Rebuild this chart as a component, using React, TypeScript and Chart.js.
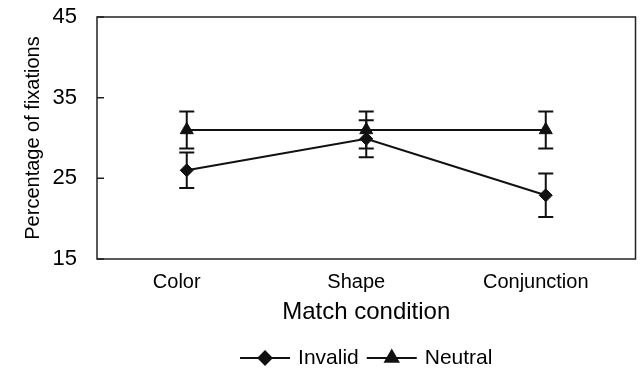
import React, { useEffect, useRef } from 'react';
import { Chart, registerables } from 'chart.js';
import { drawPoint } from 'chart.js/helpers';

Chart.register(...registerables);

const categories = ['Color', 'Shape', 'Conjunction'];
const seriesNames = ['Invalid', 'Neutral'];
const invalidValues = [26.0, 29.9, 22.9];
const invalidErrors = [2.2, 2.3, 2.7];
const neutralValues = [31.0, 31.0, 31.0];
const neutralErrors = [2.3, 2.3, 2.3];
const yMin = 15;
const yMax = 45;
const yStep = 10;

const FONT = '"Liberation Sans", Arial, sans-serif';

const errorBarPlugin = {
  id: 'errorBars',
  beforeDatasetsDraw(chart: any) {
    const { ctx } = chart;
    const ys = chart.scales.y;
    chart.data.datasets.forEach((ds: any, i: number) => {
      const meta = chart.getDatasetMeta(i);
      meta.data.forEach((pt: any, j: number) => {
        const v = ds.data[j];
        const e = ds.errors[j];
        const top = ys.getPixelForValue(v + e);
        const bot = ys.getPixelForValue(v - e);
        const cap = 7.5;
        ctx.save();
        ctx.strokeStyle = '#111';
        ctx.lineWidth = 2;
        ctx.beginPath();
        ctx.moveTo(pt.x, top);
        ctx.lineTo(pt.x, bot);
        ctx.moveTo(pt.x - cap, top);
        ctx.lineTo(pt.x + cap, top);
        ctx.moveTo(pt.x - cap, bot);
        ctx.lineTo(pt.x + cap, bot);
        ctx.stroke();
        ctx.restore();
      });
    });
  },
};

const framePlugin = {
  id: 'frame',
  afterDraw(chart: any) {
    const { ctx, chartArea } = chart;
    const ys = chart.scales.y;
    ctx.save();
    ctx.strokeStyle = '#222';
    ctx.lineWidth = 1.5;
    ctx.strokeRect(chartArea.left, chartArea.top, chartArea.right - chartArea.left, chartArea.bottom - chartArea.top);
    ctx.beginPath();
    ys.ticks.forEach((t: any) => {
      const py = ys.getPixelForValue(t.value);
      ctx.moveTo(chartArea.left, py);
      ctx.lineTo(chartArea.left + 7, py);
    });
    ctx.stroke();
    ctx.restore();
  },
};

const legendPlugin = {
  id: 'lineLegend',
  afterDraw(chart: any) {
    const { ctx, chartArea } = chart;
    ctx.save();
    ctx.font = '21px ' + FONT;
    const sample = 50;
    const textGap = 8;
    const itemGap = 8;
    const items = chart.data.datasets.map((ds: any) => ({
      ds,
      w: sample + textGap + ctx.measureText(ds.label).width,
    }));
    const total = items.reduce((s: number, it: any) => s + it.w, 0) + itemGap * (items.length - 1);
    let x = (chartArea.left + chartArea.right) / 2 - total / 2;
    const yc = chart.height - 15;
    items.forEach((it: any) => {
      const ds = it.ds;
      ctx.strokeStyle = '#111';
      ctx.fillStyle = '#111';
      ctx.lineWidth = 2;
      ctx.beginPath();
      ctx.moveTo(x, yc);
      ctx.lineTo(x + sample, yc);
      ctx.stroke();
      drawPoint(ctx, { pointStyle: ds.pointStyle, radius: ds.pointRadius, rotation: 0, borderWidth: 1 }, x + sample / 2, yc);
      ctx.fillStyle = '#000';
      ctx.textAlign = 'left';
      ctx.textBaseline = 'middle';
      ctx.fillText(ds.label, x + sample + textGap, yc);
      x += it.w + itemGap;
    });
    ctx.restore();
  },
};

export default function App() {
  const ref = useRef<HTMLCanvasElement>(null);
  useEffect(() => {
    if (!ref.current) return;
    const chart = new Chart(ref.current, {
      type: 'line',
      data: {
        labels: categories,
        datasets: [
          {
            label: seriesNames[0],
            data: invalidValues,
            errors: invalidErrors,
            borderColor: '#111',
            backgroundColor: '#111',
            pointBackgroundColor: '#111',
            pointBorderColor: '#111',
            borderWidth: 2,
            pointStyle: 'rectRot',
            pointRadius: 6.5,
            pointBorderWidth: 1,
          } as any,
          {
            label: seriesNames[1],
            data: neutralValues,
            errors: neutralErrors,
            borderColor: '#111',
            backgroundColor: '#111',
            pointBackgroundColor: '#111',
            pointBorderColor: '#111',
            borderWidth: 2,
            pointStyle: 'triangle',
            pointRadius: 7.5,
            pointBorderWidth: 1,
          } as any,
        ],
      },
      options: {
        animation: false,
        responsive: true,
        maintainAspectRatio: false,
        layout: { padding: { top: 17, right: 3, left: 0, bottom: 0 } },
        plugins: {
          legend: { display: false },
          tooltip: { enabled: false },
        },
        scales: {
          x: {
            type: 'category',
            offset: true,
            grid: { display: false, drawTicks: false },
            border: { display: false },
            ticks: {
              color: '#000',
              font: { family: FONT, size: 20 },
              padding: 11,
              labelOffset: -10,
              maxRotation: 0,
            },
            title: {
              display: true,
              text: 'Match condition',
              color: '#000',
              font: { family: FONT, size: 24 },
              padding: { top: 0, bottom: 46 },
            },
            afterFit(scale: any) {
              scale.height = 114;
              scale.paddingLeft = 0;
              scale.paddingRight = 0;
            },
          },
          y: {
            min: yMin,
            max: yMax,
            grid: { display: false, drawTicks: false },
            border: { display: false },
            ticks: {
              stepSize: yStep,
              color: '#000',
              font: { family: FONT, size: 22 },
              padding: 20,
            },
            title: {
              display: true,
              text: 'Percentage of fixations',
              color: '#000',
              font: { family: FONT, size: 20 },
              padding: { top: 21, bottom: 0 },
            },
            afterFit(scale: any) {
              scale.width = 97;
              scale.paddingTop = 0;
              scale.paddingBottom = 0;
            },
          },
        },
      },
      plugins: [errorBarPlugin, framePlugin, legendPlugin],
    });
    return () => chart.destroy();
  }, []);
  return (
    <div style={{ position: 'fixed', left: 0, top: 0, width: 644, height: 373, background: '#fff' }}>
      <canvas ref={ref} />
    </div>
  );
}
